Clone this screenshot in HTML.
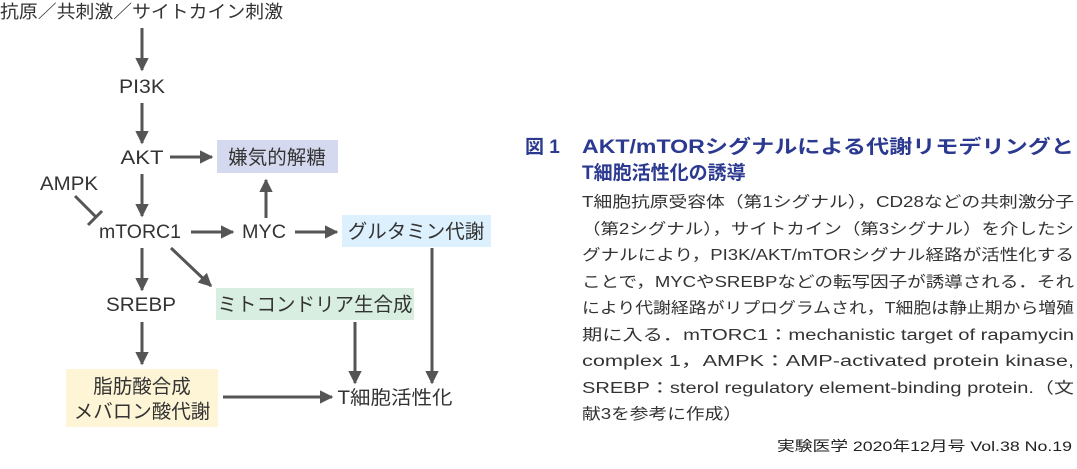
<!DOCTYPE html>
<html><head><meta charset="utf-8"><style>
html,body{margin:0;padding:0;background:#fff}
svg{display:block}
text{font-family:"Liberation Sans","Noto Sans CJK JP",sans-serif}
</style></head><body>
<svg width="1077" height="469" viewBox="0 0 1077 469" xmlns="http://www.w3.org/2000/svg">
<defs>
<marker id="a" viewBox="0 0 10 10" refX="9" refY="5" markerWidth="4.5" markerHeight="4.5" markerUnits="strokeWidth" orient="auto">
<path d="M0,0 L10,5 L0,10 z" fill="#555"/></marker>
</defs>
<g fill="#333" font-size="19">
<text x="0" y="18" font-size="18" textLength="283" lengthAdjust="spacingAndGlyphs">抗原／共刺激／サイトカイン刺激</text>
<text x="142" y="93" text-anchor="middle" textLength="46" lengthAdjust="spacingAndGlyphs">PI3K</text>
<text x="142" y="164" text-anchor="middle" textLength="43" lengthAdjust="spacingAndGlyphs">AKT</text>
<text x="69" y="190" text-anchor="middle" textLength="58" lengthAdjust="spacingAndGlyphs">AMPK</text>
<text x="140" y="238" text-anchor="middle" textLength="82" lengthAdjust="spacingAndGlyphs">mTORC1</text>
<text x="264" y="238" text-anchor="middle" textLength="44" lengthAdjust="spacingAndGlyphs">MYC</text>
<text x="141" y="311" text-anchor="middle" textLength="70" lengthAdjust="spacingAndGlyphs">SREBP</text>
<text x="395" y="404" text-anchor="middle" textLength="115" lengthAdjust="spacingAndGlyphs">T細胞活性化</text>
</g>
<rect x="217" y="140" width="121" height="33" fill="#d5d9ef"/>
<rect x="342" y="215" width="149" height="32" fill="#dcf0fd"/>
<rect x="216" y="288" width="198" height="32" fill="#d8eee0"/>
<rect x="66" y="369" width="152" height="58" fill="#fdf5d5"/>
<g fill="#333" font-size="19.5" text-anchor="middle">
<text x="277" y="164">嫌気的解糖</text>
<text x="416" y="238">グルタミン代謝</text>
<text x="315" y="311">ミトコンドリア生合成</text>
<text x="142" y="393">脂肪酸合成</text>
<text x="142" y="418">メバロン酸代謝</text>
</g>
<g stroke="#555" stroke-width="3" fill="none" marker-end="url(#a)">
<line x1="142" y1="28" x2="142" y2="70"/>
<line x1="142" y1="103" x2="142" y2="143"/>
<line x1="170" y1="157" x2="212" y2="157"/>
<line x1="142" y1="174" x2="142" y2="216"/>
<line x1="191" y1="232" x2="233" y2="232"/>
<line x1="266" y1="218" x2="266" y2="180"/>
<line x1="295" y1="232" x2="337" y2="232"/>
<line x1="142" y1="248" x2="142" y2="290"/>
<line x1="171" y1="248" x2="211" y2="286"/>
<line x1="142" y1="322" x2="142" y2="364"/>
<line x1="223" y1="397" x2="332" y2="397"/>
<line x1="355" y1="322" x2="355" y2="383"/>
<line x1="432" y1="248" x2="432" y2="383"/>
</g>
<g stroke="#555" stroke-width="3">
<line x1="75" y1="196" x2="96" y2="217"/>
<line x1="88" y1="225" x2="102" y2="211"/>
</g>
<g fill="#2b3a90" font-weight="bold" font-size="19">
<text x="525" y="153">図 1</text>
<text x="582" y="153" textLength="492" lengthAdjust="spacingAndGlyphs">AKT/mTORシグナルによる代謝リモデリングと</text>
<text x="582" y="179">T細胞活性化の誘導</text>
</g>
<g fill="#333" font-size="15.5">
<text x="582" y="207" textLength="492" lengthAdjust="spacingAndGlyphs">T細胞抗原受容体（第1シグナル），CD28などの共刺激分子</text>
<text x="582" y="234" textLength="492" lengthAdjust="spacingAndGlyphs">（第2シグナル），サイトカイン（第3シグナル）を介したシ</text>
<text x="582" y="260" textLength="492" lengthAdjust="spacingAndGlyphs">グナルにより，PI3K/AKT/mTORシグナル経路が活性化する</text>
<text x="582" y="287" textLength="492" lengthAdjust="spacingAndGlyphs">ことで，MYCやSREBPなどの転写因子が誘導される．それ</text>
<text x="582" y="313" textLength="492" lengthAdjust="spacingAndGlyphs">により代謝経路がリプログラムされ，T細胞は静止期から増殖</text>
<text x="582" y="340" textLength="492" lengthAdjust="spacingAndGlyphs">期に入る．mTORC1：mechanistic target of rapamycin</text>
<text x="582" y="366" textLength="492" lengthAdjust="spacingAndGlyphs">complex 1，AMPK：AMP-activated protein kinase,</text>
<text x="582" y="393" textLength="492" lengthAdjust="spacingAndGlyphs">SREBP：sterol regulatory element-binding protein.（文</text>
<text x="582" y="419" textLength="160" lengthAdjust="spacingAndGlyphs">献3を参考に作成）</text>
</g>
<text x="1072" y="451" fill="#222" font-size="14" text-anchor="end" textLength="295" lengthAdjust="spacingAndGlyphs">実験医学 2020年12月号 Vol.38 No.19</text>
</svg>
</body></html>
